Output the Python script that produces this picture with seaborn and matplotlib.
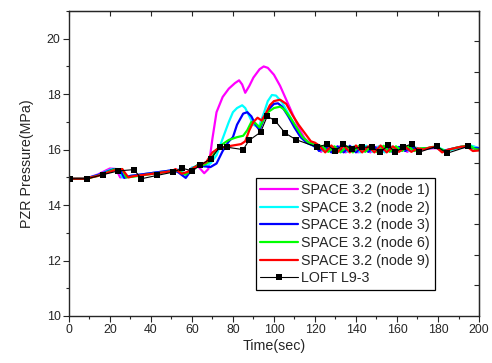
import pandas as pd
import matplotlib
matplotlib.use("Agg")
import matplotlib.pyplot as plt
from matplotlib.ticker import MultipleLocator
import seaborn as sns

# SPACE 3.2 node results (time in s, pressure in MPa)
NODE1_T = [0, 8, 14, 20, 23, 25, 30, 40, 50, 54, 57, 60, 63, 66, 68, 70, 72, 75, 78, 81, 83, 84.5, 86, 88, 90,
           93, 95, 97, 100, 103, 106, 109, 112, 115, 118, 120,
           123, 126, 129, 132, 135, 138, 141, 144, 147, 150, 153, 156, 159, 162, 165, 168, 171, 174, 177, 180,
           183, 186, 189, 192, 195, 198, 200]
NODE1_P = [14.95, 14.95, 15.1, 15.32, 15.3, 15.0, 15.05, 15.15, 15.25, 15.28, 15.1, 15.35, 15.4, 15.15, 15.3,
           16.4, 17.35, 17.9, 18.2, 18.4, 18.5, 18.35, 18.05, 18.3, 18.6, 18.9, 19.0, 18.95, 18.7, 18.3, 17.8,
           17.3, 16.8, 16.4, 16.2, 16.15,
           15.92, 16.1, 15.9, 16.12, 15.9, 16.1, 15.9, 16.12, 15.9, 16.1, 15.92, 16.12, 15.9, 16.1, 15.92, 16.08,
           15.95, 16.05, 16.05, 16.05, 15.92, 16.0, 16.05, 16.08, 16.12, 16.1, 16.05]

NODE2_T = [0, 8, 14, 21, 24, 26, 30, 40, 50, 54, 57, 60, 63, 66, 69, 72, 75, 78, 80, 82, 84.5, 86, 88, 90, 92.5,
           95, 97, 99, 101, 104, 107, 110, 113, 116, 119, 121,
           124, 127, 130, 133, 136, 139, 142, 145, 148, 151, 154, 157, 160, 163, 166, 169, 172, 175, 178, 181,
           184, 187, 190, 193, 196, 200]
NODE2_P = [14.95, 14.95, 15.08, 15.3, 15.3, 15.0, 15.05, 15.15, 15.25, 15.28, 15.08, 15.35, 15.42, 15.4, 15.5,
           15.8, 16.4, 17.0, 17.35, 17.5, 17.6, 17.5, 17.2, 16.9, 16.8, 17.3, 17.75, 17.97, 17.95, 17.7, 17.3,
           16.9, 16.5, 16.25, 16.15, 16.1,
           15.95, 16.12, 15.9, 16.15, 15.92, 16.12, 15.9, 16.14, 15.92, 16.12, 15.9, 16.12, 15.92, 16.1, 15.95,
           16.08, 16.0, 16.05, 16.1, 16.05, 15.95, 16.0, 16.05, 16.1, 16.15, 16.05]

NODE3_T = [0, 8, 14, 22, 25, 27, 30, 40, 50, 53, 57, 60, 63, 66, 69, 72, 75, 78, 80, 82, 85, 87, 89, 91, 93, 95,
           98, 100, 102, 104, 107, 110, 113, 116, 119, 121,
           122, 125, 128, 131, 134, 137, 140, 143, 146, 149, 152, 155, 158, 161, 164, 167, 170, 173, 176, 179,
           182, 185, 188, 191, 194, 197, 200]
NODE3_P = [14.95, 14.95, 15.08, 15.3, 15.28, 14.98, 15.05, 15.15, 15.25, 15.2, 14.98, 15.3, 15.45, 15.4, 15.37,
           15.5, 15.95, 16.3, 16.45, 16.9, 17.3, 17.35, 17.2, 16.9, 16.7, 17.1, 17.5, 17.65, 17.67, 17.55, 17.2,
           16.8, 16.45, 16.25, 16.15, 16.05,
           15.95, 16.12, 15.9, 16.12, 15.9, 16.14, 15.9, 16.12, 15.92, 16.1, 15.9, 16.12, 15.9, 16.1, 15.95,
           16.1, 15.95, 16.05, 16.05, 16.08, 15.95, 16.0, 16.05, 16.1, 16.12, 16.05, 16.05]

NODE6_T = [0, 8, 14, 22, 26, 28, 31, 40, 50, 53, 57, 60, 63, 66, 69, 72, 75, 78, 82, 85, 87, 89, 91, 93, 95, 97,
           100, 103, 105, 108, 111, 114, 117, 120,
           123.5, 126.5, 129.5, 132.5, 135.5, 138.5, 141.5, 144.5, 147.5, 150.5, 153.5, 156.5, 159.5, 162.5,
           165.5, 168.5, 171.5, 174.5, 177.5, 180.5, 183.5, 186.5, 189.5, 192.5, 195.5, 198, 200]
NODE6_P = [14.95, 14.95, 15.05, 15.28, 15.3, 15.0, 15.02, 15.12, 15.22, 15.25, 15.1, 15.3, 15.45, 15.45, 15.6,
           16.0, 16.2, 16.35, 16.45, 16.5, 16.7, 17.0, 16.95, 16.8, 17.1, 17.35, 17.5, 17.55, 17.45, 17.15, 16.8,
           16.45, 16.25, 16.2,
           16.12, 15.92, 16.12, 15.9, 16.12, 15.9, 16.14, 15.92, 16.12, 15.9, 16.14, 15.92, 16.12, 15.95, 16.12,
           15.95, 16.05, 16.05, 16.1, 16.05, 15.95, 16.02, 16.08, 16.12, 16.15, 16.02, 16.0]

NODE9_T = [0, 8, 14, 22, 26, 29, 32, 40, 50, 52, 55, 58, 61, 64, 67, 70, 73, 76, 80, 84, 86, 88, 90, 92, 94, 96,
           98, 100, 103, 106, 109, 112, 115, 118, 120,
           122, 125, 128, 131, 134, 137, 140, 143, 146, 149, 152, 155, 158, 161, 164, 167, 170, 173, 176, 179,
           182, 185, 188, 191, 194, 197, 200]
NODE9_P = [14.95, 14.95, 15.05, 15.25, 15.3, 15.0, 15.05, 15.12, 15.22, 15.3, 15.13, 15.2, 15.35, 15.45, 15.55,
           15.9, 16.05, 16.1, 16.15, 16.2, 16.3, 16.7, 17.0, 17.15, 17.05, 17.3, 17.6, 17.75, 17.8, 17.65, 17.25,
           16.9, 16.6, 16.3, 16.25,
           16.15, 15.9, 16.15, 15.9, 16.15, 15.9, 16.15, 15.9, 16.12, 15.9, 16.15, 15.9, 16.12, 15.92, 16.1,
           15.92, 16.05, 16.0, 16.08, 16.1, 15.9, 16.0, 16.05, 16.1, 16.12, 15.95, 15.97]

# LOFT L9-3 measured data
LOFT_T = [0.5, 9, 16.8, 24, 31.7, 35.4, 43, 50.9, 55.3, 60.2, 63.9, 69.1, 73.7, 76.9, 85, 87.8, 93.5, 96.7,
          100.5, 105.4, 110.7, 121.1, 125.7, 129.8, 133.8, 137.9, 142.8, 147.7, 151.7, 155.8, 159, 163.1,
          167.2, 170.9, 179.4, 184.5, 194.8]
LOFT_P = [14.95, 14.95, 15.1, 15.23, 15.28, 14.95, 15.07, 15.19, 15.33, 15.23, 15.43, 15.67, 16.09, 16.09,
          16.0, 16.33, 16.63, 17.2, 17.05, 16.6, 16.36, 16.09, 16.19, 15.95, 16.19, 16.03, 16.09, 16.09, 15.91,
          16.15, 15.91, 16.09, 16.21, 15.91, 16.12, 15.87, 16.12]

SERIES = [
    ("SPACE 3.2 (node 1)", NODE1_T, NODE1_P, "#ff00ff"),
    ("SPACE 3.2 (node 2)", NODE2_T, NODE2_P, "#00ffff"),
    ("SPACE 3.2 (node 3)", NODE3_T, NODE3_P, "#0000ff"),
    ("SPACE 3.2 (node 6)", NODE6_T, NODE6_P, "#00ff00"),
    ("SPACE 3.2 (node 9)", NODE9_T, NODE9_P, "#ff0000"),
]

sns.set_style("ticks")
plt.rcParams["font.family"] = ["Liberation Sans", "DejaVu Sans"]

fig = plt.figure(figsize=(4.92, 3.63), dpi=100)
ax = fig.add_axes([0.140, 0.1295, 0.8336, 0.8402])

for label, t, p, color in SERIES:
    df = pd.DataFrame({"t": t, "p": p})
    sns.lineplot(data=df, x="t", y="p", ax=ax, color=color, linewidth=1.6, label=label)

loft = pd.DataFrame({"t": LOFT_T, "p": LOFT_P})
sns.lineplot(data=loft, x="t", y="p", ax=ax, color="black", linewidth=0.8, marker="s",
             markersize=4, markeredgewidth=0, label="LOFT L9-3")

ax.set_xlim(0, 200)
ax.set_ylim(10, 21)
ax.xaxis.set_major_locator(MultipleLocator(20))
ax.xaxis.set_minor_locator(MultipleLocator(10))
ax.yaxis.set_minor_locator(MultipleLocator(1))
ax.set_yticks([10, 12, 14, 16, 18, 20])
ax.tick_params(which="major", direction="out", length=4, width=0.8, labelsize=8.9, pad=2)
ax.tick_params(which="minor", direction="out", length=2.5, width=0.8)
ax.set_xlabel("Time(sec)", fontsize=10.3, labelpad=2)
ax.set_ylabel("PZR Pressure(MPa)", fontsize=10.3, labelpad=9)
for s in ax.spines.values():
    s.set_linewidth(0.9)
    s.set_color("black")

# inward ticks on the top and right frame
top = ax.secondary_xaxis("top")
top.xaxis.set_major_locator(MultipleLocator(20))
top.tick_params(direction="in", length=3.5, width=0.8, labeltop=False)
right = ax.twinx()
right.set_ylim(0, 10)
right.set_yticks(range(1, 10))
right.tick_params(direction="in", length=3.5, width=0.8, labelright=False)
right.spines["right"].set_linewidth(0.9)

ax.legend(loc="lower left", bbox_to_anchor=(0.456, 0.085), borderaxespad=0, fontsize=10.3,
          frameon=True, fancybox=False, edgecolor="black", framealpha=1, handlelength=2.6,
          handletextpad=0.25, labelspacing=0.26, borderpad=0.32)
ax.get_legend().get_frame().set_linewidth(0.9)

fig.savefig("out.png", dpi=100)
